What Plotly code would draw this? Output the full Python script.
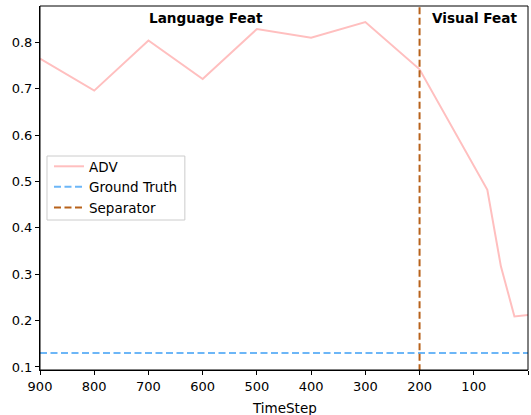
import plotly.graph_objects as go

timesteps = [900, 800, 700, 600, 500, 400, 300, 200, 75, 50, 25, 0]
adv = [0.765, 0.696, 0.804, 0.721, 0.829, 0.810, 0.844, 0.742, 0.482, 0.317, 0.209, 0.212]
ground_truth = 0.13
separator_x = 200
x_ticks = [900, 800, 700, 600, 500, 400, 300, 200, 100, 0]
y_ticks = [0.1, 0.2, 0.3, 0.4, 0.5, 0.6, 0.7, 0.8]

FONT = "DejaVu Sans"
fig = go.Figure()
fig.add_trace(go.Scatter(x=timesteps, y=adv, mode="lines", name="ADV",
                         line=dict(color="#ffbfbf", width=2)))
fig.add_trace(go.Scatter(x=[900, 0], y=[ground_truth, ground_truth], mode="lines",
                         name="Ground Truth",
                         line=dict(color="#6cb6f7", width=2, dash="7px,3.5px")))
fig.add_trace(go.Scatter(x=[separator_x, separator_x], y=[0.0, 1.0], mode="lines",
                         name="Separator",
                         line=dict(color="#b8621b", width=2, dash="7px,3.5px")))

fig.add_annotation(x=593, y=0.966, xref="x", yref="paper", text="<b>Language Feat</b>",
                   showarrow=False, yanchor="middle",
                   font=dict(family=FONT, size=13.6, color="black"))
fig.add_annotation(x=99, y=0.966, xref="x", yref="paper", text="<b>Visual Feat</b>",
                   showarrow=False, yanchor="middle",
                   font=dict(family=FONT, size=13.6, color="black"))
fig.add_annotation(x=0.5, y=-0.105, xref="paper", yref="paper", text="TimeStep",
                   showarrow=False, yanchor="middle",
                   font=dict(family=FONT, size=13.5, color="black"))

# axes frame and legend box
fig.add_shape(type="rect", xref="paper", yref="paper", x0=0, y0=0, x1=1, y1=1,
              line=dict(color="black", width=1), layer="above")
fig.add_shape(type="rect", xref="paper", yref="paper",
              x0=7 / 488.5, x1=145 / 488.5, y0=(370 - 220) / 364, y1=(370 - 156) / 364,
              line=dict(color="#cccccc", width=1), fillcolor="white", layer="below")

fig.update_layout(
    width=531, height=415,
    margin=dict(l=40, r=3, t=6, b=45, autoexpand=False),
    paper_bgcolor="white", plot_bgcolor="rgba(0,0,0,0)",
    font=dict(family=FONT, size=13, color="black"),
    showlegend=True,
    legend=dict(x=9 / 488.5, y=0.6016, xanchor="left", yanchor="top",
                bgcolor="rgba(0,0,0,0)", borderwidth=0,
                font=dict(family=FONT, size=13.5), tracegroupgap=0),
    xaxis=dict(range=[900, 0], tickvals=x_ticks, showgrid=False, zeroline=False,
               showline=True, linecolor="black", linewidth=1,
               ticks="outside", ticklen=4, tickcolor="black", automargin=False),
    yaxis=dict(range=[0.0935, 0.8785], tickvals=y_ticks, tickformat=".1f",
               showgrid=False, zeroline=False,
               showline=True, linecolor="black", linewidth=1,
               ticks="outside", ticklen=4, tickcolor="black", automargin=False),
)

fig.write_html("out.html", config={"displayModeBar": False},
               post_script="document.body.style.margin='0';document.body.style.overflow='hidden';")
